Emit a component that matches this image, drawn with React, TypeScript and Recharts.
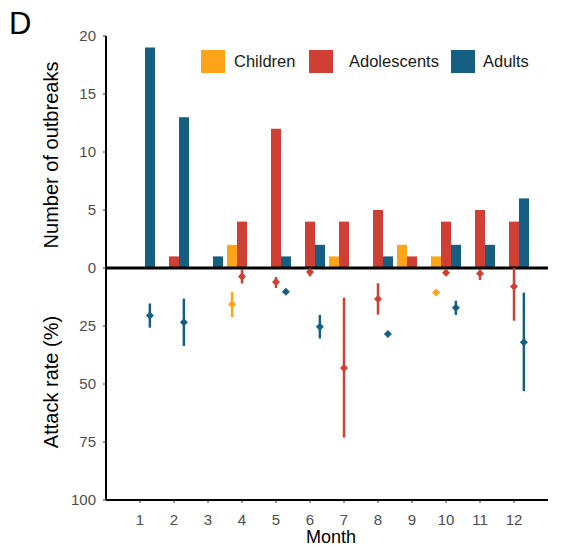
import React from "react";
import {
  ComposedChart,
  Bar,
  Scatter,
  ErrorBar,
  XAxis,
  YAxis,
  ReferenceLine,
} from "recharts";

const FONT = "'Liberation Sans', Arial, sans-serif";

const ORANGE = "#FFA319";
const RED = "#CF3F33";
const BLUE = "#155F83";

// upper panel: 20 outbreaks share the same height as 100 % attack rate below
const OUTBREAK_SCALE = 5;

const MONTHS = [1, 2, 3, 4, 5, 6, 7, 8, 9, 10, 11, 12];
const CHILDREN_OUTBREAKS = [0, 0, 0, 2, 0, 0, 1, 0, 2, 1, 0, 0];
const ADOLESCENT_OUTBREAKS = [0, 1, 0, 4, 12, 4, 4, 5, 1, 4, 5, 4];
const ADULT_OUTBREAKS = [19, 13, 1, 0, 1, 2, 0, 1, 0, 2, 2, 6];

// attack rate (%) with lower / upper bounds, only months that have one
const CHILDREN_AR_MONTHS = [4, 10];
const CHILDREN_AR = [15.6, 10.6];
const CHILDREN_AR_LOW = [10.3, 10.6];
const CHILDREN_AR_HIGH = [21.1, 10.6];

const ADOLESCENT_AR_MONTHS = [4, 5, 6, 7, 8, 10, 11, 12];
const ADOLESCENT_AR = [3.7, 6.0, 1.7, 43.1, 13.4, 2.0, 2.4, 8.0];
const ADOLESCENT_AR_LOW = [0.5, 3.9, 0.3, 12.8, 6.6, 0.8, 0.5, 0];
const ADOLESCENT_AR_HIGH = [6.7, 8.6, 3.6, 73.1, 20.1, 3.1, 5.2, 22.7];

const ADULT_AR_MONTHS = [1, 2, 5, 6, 8, 10, 12];
const ADULT_AR = [20.5, 23.4, 10.2, 25.3, 28.4, 17.1, 32.0];
const ADULT_AR_LOW = [15.3, 13.2, 10.2, 20.2, 28.4, 14.1, 10.6];
const ADULT_AR_HIGH = [25.7, 33.6, 10.2, 30.4, 28.4, 20.2, 53.1];

const Y_TICKS = [-100, -75, -50, -25, 0, 25, 50, 75, 100];

const barData = MONTHS.map((m, i) => ({
  x: m,
  children: CHILDREN_OUTBREAKS[i] * OUTBREAK_SCALE,
  adolescents: ADOLESCENT_OUTBREAKS[i] * OUTBREAK_SCALE,
  adults: ADULT_OUTBREAKS[i] * OUTBREAK_SCALE,
}));

// attack rates hang below zero; x is shifted to sit under its own bar
function rateData(months: number[], rate: number[], low: number[], high: number[], shift: number) {
  return months.map((m, i) => ({
    x: m + shift,
    y: -rate[i],
    err: [high[i] - rate[i], rate[i] - low[i]],
  }));
}

const childrenRates = rateData(CHILDREN_AR_MONTHS, CHILDREN_AR, CHILDREN_AR_LOW, CHILDREN_AR_HIGH, -0.29);
const adolescentRates = rateData(ADOLESCENT_AR_MONTHS, ADOLESCENT_AR, ADOLESCENT_AR_LOW, ADOLESCENT_AR_HIGH, 0);
const adultRates = rateData(ADULT_AR_MONTHS, ADULT_AR, ADULT_AR_LOW, ADULT_AR_HIGH, 0.29);

const LEGEND = [
  { name: "Children", color: ORANGE, left: 201, textLeft: 234 },
  { name: "Adolescents", color: RED, left: 309, textLeft: 349 },
  { name: "Adults", color: BLUE, left: 451, textLeft: 483 },
];

const Diamond = (props: any) => {
  const { cx, cy, fill } = props;
  const r = 4;
  return (
    <polygon
      points={`${cx},${cy - r} ${cx + r},${cy} ${cx},${cy + r} ${cx - r},${cy}`}
      fill={fill}
    />
  );
};

function formatY(v: number) {
  return v > 0 ? String(v / OUTBREAK_SCALE) : String(-v);
}

const tickStyle = { fill: "#4d4d4d", fontSize: 15, fontFamily: FONT };

export default function App() {
  return (
    <div style={{ position: "absolute", left: 0, top: 0, width: 584, height: 547, background: "#fff" }}>
      <ComposedChart
        width={584}
        height={547}
        data={barData}
        margin={{ top: 36, right: 36, bottom: 0, left: 0 }}
        barGap={0}
      >
        <XAxis
          dataKey="x"
          type="number"
          domain={[0, 13]}
          ticks={MONTHS}
          height={47}
          tickSize={3}
          tickMargin={11}
          tick={tickStyle}
          axisLine={{ stroke: "#000", strokeWidth: 2 }}
          tickLine={{ stroke: "#333" }}
          allowDataOverflow
        />
        {/* second, hidden x axis for the shifted attack-rate points */}
        <XAxis xAxisId="rate" dataKey="x" type="number" domain={[0, 13]} hide allowDataOverflow />
        <YAxis
          type="number"
          domain={[-100, 100]}
          ticks={Y_TICKS}
          width={106}
          tickSize={3}
          tickMargin={7}
          tickFormatter={formatY}
          tick={tickStyle}
          axisLine={{ stroke: "#000", strokeWidth: 2 }}
          tickLine={{ stroke: "#333" }}
          interval={0}
        />
        <Bar dataKey="children" fill={ORANGE} barSize={10} isAnimationActive={false} />
        <Bar dataKey="adolescents" fill={RED} barSize={10} isAnimationActive={false} />
        <Bar dataKey="adults" fill={BLUE} barSize={10} isAnimationActive={false} />
        <ReferenceLine y={0} stroke="#000" strokeWidth={3} />
        <Scatter xAxisId="rate" data={childrenRates} dataKey="y" fill={ORANGE} shape={Diamond} isAnimationActive={false}>
          <ErrorBar dataKey="err" direction="y" width={0} stroke={ORANGE} strokeWidth={2.5} isAnimationActive={false} />
        </Scatter>
        <Scatter xAxisId="rate" data={adolescentRates} dataKey="y" fill={RED} shape={Diamond} isAnimationActive={false}>
          <ErrorBar dataKey="err" direction="y" width={0} stroke={RED} strokeWidth={2.5} isAnimationActive={false} />
        </Scatter>
        <Scatter xAxisId="rate" data={adultRates} dataKey="y" fill={BLUE} shape={Diamond} isAnimationActive={false}>
          <ErrorBar dataKey="err" direction="y" width={0} stroke={BLUE} strokeWidth={2.5} isAnimationActive={false} />
        </Scatter>
      </ComposedChart>

      <svg
        width={584}
        height={547}
        style={{ position: "absolute", left: 0, top: 0, pointerEvents: "none" }}
        fontFamily={FONT}
      >
        <text x={9} y={34} fontSize={31} fill="#000">D</text>
        <text transform="translate(58,155) rotate(-90)" textAnchor="middle" fontSize={20} fill="#000">
          Number of outbreaks
        </text>
        <text transform="translate(58,382) rotate(-90)" textAnchor="middle" fontSize={20} fill="#000">
          Attack rate (%)
        </text>
        <text x={331} y={543} textAnchor="middle" fontSize={18} fill="#000">Month</text>
      </svg>

      {LEGEND.map((item) => (
        <React.Fragment key={item.name}>
          <div
            style={{
              position: "absolute",
              left: item.left,
              top: 50,
              width: 24,
              height: 23,
              background: item.color,
            }}
          />
          <div
            style={{
              position: "absolute",
              left: item.textLeft,
              top: 50,
              height: 23,
              lineHeight: "23px",
              fontSize: 16.5,
              fontFamily: FONT,
              color: "#1a1a1a",
            }}
          >
            {item.name}
          </div>
        </React.Fragment>
      ))}
    </div>
  );
}
